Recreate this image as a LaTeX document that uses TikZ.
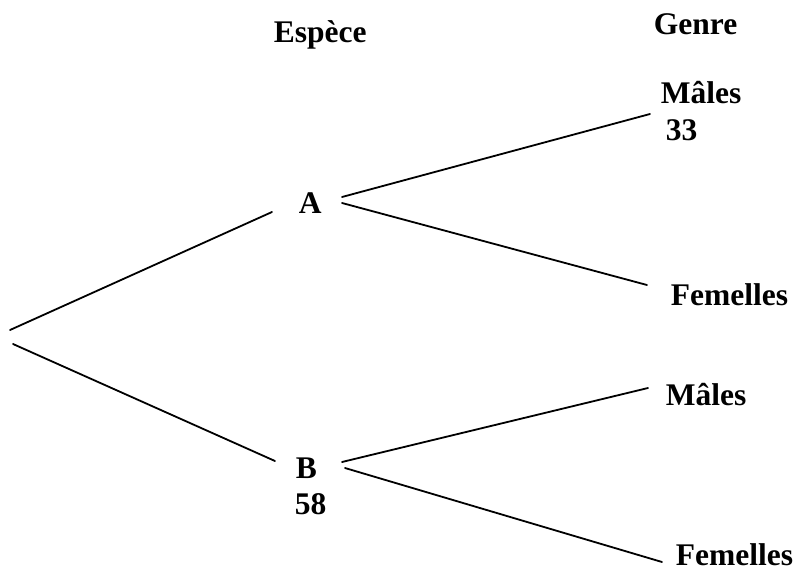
\documentclass[tikz,border=0pt]{standalone}
\usepackage{fontspec}
\setmainfont{Liberation Serif}
\begin{document}
\begin{tikzpicture}[x=1pt, y=-1pt, line width=1.8pt, line join=round, line cap=round,
	lbl/.style={anchor=base west, inner sep=0pt, font=\fontsize{31.5}{36}\selectfont\bfseries}]
	\useasboundingbox (0,0) rectangle (795,578);
	% titres
	\node[lbl] (espece) at (273,43) {Espèce};
	\node[lbl] (genre) at (653,35) {Genre};
	% niveau espece
	\node[lbl] (A) at (298,213) {A};
	\node[lbl] (B) at (295,478) {B};
	\node[lbl] (nB) at (294,514) {58};
	% niveau genre
	\node[lbl] (mA) at (660,103) {Mâles};
	\node[lbl] (nmA) at (665,140) {33};
	\node[lbl] (fA) at (670,305) {Femelles};
	\node[lbl] (mB) at (665,405) {Mâles};
	\node[lbl] (fB) at (675,565) {Femelles};
	% extremites des branches
	\coordinate (o1) at (10,330);
	\coordinate (o2) at (13,344);
	\coordinate (A-in) at (272,212);
	\coordinate (B-in) at (275,461);
	\coordinate (A-o1) at (342,197);
	\coordinate (A-o2) at (342,203);
	\coordinate (B-o1) at (342,462);
	\coordinate (B-o2) at (345,468);
	\coordinate (mA-in) at (650,114);
	\coordinate (fA-in) at (647,285);
	\coordinate (mB-in) at (648,388);
	\coordinate (fB-in) at (662,562);
	% branches
	\draw (o1)--(A-in);
	\draw (o2)--(B-in);
	\draw (A-o1)--(mA-in);
	\draw (A-o2)--(fA-in);
	\draw (B-o1)--(mB-in);
	\draw (B-o2)--(fB-in);
\end{tikzpicture}
\end{document}
